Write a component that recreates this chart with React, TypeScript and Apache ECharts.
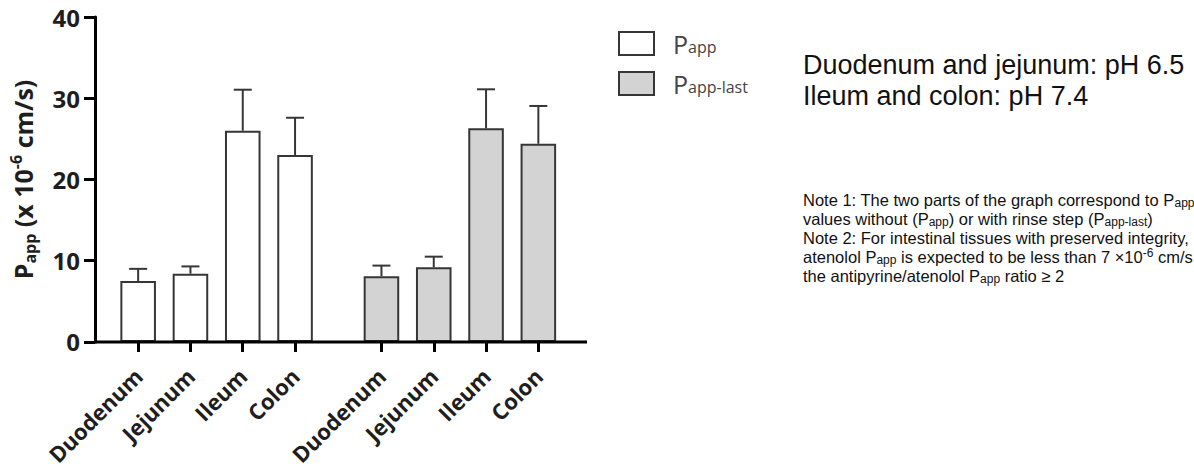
import React, { useEffect, useRef } from 'react';
import * as echarts from 'echarts';

const categories = ['Duodenum', 'Jejunum', 'Ileum', 'Colon'];
const pappMean = [7.5, 8.4, 26.0, 23.0];
const pappSD = [1.5, 0.9, 5.05, 4.6];
const pappLastMean = [8.1, 9.2, 26.3, 24.4];
const pappLastSD = [1.3, 1.3, 4.8, 4.65];
const yMin = 0;
const yMax = 40;
const yInterval = 10;
const seriesNames = ['Papp', 'Papp-last'];
const legendSubs = ['app', 'app-last'];
const titleLines = ['Duodenum and jejunum: pH 6.5', 'Ileum and colon: pH 7.4'];
const noteLines = [
  '{t|Note 1: The two parts of the graph correspond to P}{s|app}',
  '{t|values without (P}{s|app}{t|) or with rinse step (P}{s|app-last}{t|)}',
  '{t|Note 2: For intestinal tissues with preserved integrity,}',
  '{t|atenolol P}{s|app}{t| is expected to be less than 7 \u00d710}{u|-6}{t| cm/s and}',
  '{t|the antipyrine/atenolol P}{s|app}{t| ratio \u2265 2}',
];

const INK = '#1e1e1e';
const BAR_EDGE = '#363636';

export default function App() {
  const ref = useRef<HTMLDivElement>(null);
  useEffect(() => {
    document.body.style.margin = '0';
    if (!ref.current) return;
    const chart = echarts.init(ref.current, null, { renderer: 'svg' });

    const errRender = (params: any, api: any) => {
      const x = api.value(0);
      const m = api.value(1);
      const sd = api.value(2);
      const base = api.coord([x, m]);
      const top = api.coord([x, m + sd]);
      const half = 9;
      const style = { stroke: BAR_EDGE, lineWidth: 2 };
      return {
        type: 'group',
        children: [
          { type: 'line', shape: { x1: base[0], y1: base[1], x2: top[0], y2: top[1] }, style },
          { type: 'line', shape: { x1: top[0] - half, y1: top[1], x2: top[0] + half, y2: top[1] }, style },
        ],
      };
    };

    const xAxisCommon = {
      type: 'category',
      data: categories,
      axisLine: { show: false },
      axisTick: { show: true, alignWithLabel: true, length: 10, lineStyle: { color: '#000', width: 3 } },
      axisLabel: {
        rotate: 45,
        margin: 30,
        color: INK,
        fontFamily: 'Open Sans',
        fontWeight: 'bold',
        fontSize: 22,
        interval: 0,
        padding: [0, 0, 0, 0],
      },
    };

    const option: any = {
      animation: false,
      grid: [
        { left: 112, top: 17, width: 209.2, height: 325 },
        { left: 355.3, top: 17, width: 209.2, height: 325 },
      ],
      xAxis: [
        { ...xAxisCommon, gridIndex: 0 },
        { ...xAxisCommon, gridIndex: 1 },
      ],
      yAxis: [
        {
          type: 'value',
          gridIndex: 0,
          min: yMin,
          max: yMax,
          interval: yInterval,
          offset: 17,
          splitLine: { show: false },
          axisLine: { show: true, lineStyle: { color: '#000', width: 3 } },
          axisTick: { show: true, length: 11, lineStyle: { color: '#000', width: 3 } },
          axisLabel: { margin: 15, color: INK, fontFamily: 'Open Sans', fontWeight: 'bold', fontSize: 24 },
          name: '{b|P}{s|app}{b| (x 10}{u|-6}{b| cm/s)}',
          nameLocation: 'middle',
          nameRotate: 90,
          nameGap: 57,
          nameTextStyle: {
            color: INK,
            fontFamily: 'Open Sans',
            fontWeight: 'bold',
            rich: {
              b: { fontSize: 25, fontWeight: 'bold', fontFamily: 'Open Sans', color: INK, lineHeight: 30 },
              s: { fontSize: 16, fontWeight: 'bold', fontFamily: 'Open Sans', color: INK, lineHeight: 4, verticalAlign: 'bottom' },
              u: { fontSize: 16, fontWeight: 'bold', fontFamily: 'Open Sans', color: INK, lineHeight: 8, verticalAlign: 'top' },
            },
          },
        },
        {
          type: 'value',
          gridIndex: 1,
          min: yMin,
          max: yMax,
          interval: yInterval,
          show: false,
          splitLine: { show: false },
        },
      ],
      legend: {
        orient: 'vertical',
        left: 618,
        top: 31,
        padding: 0,
        itemWidth: 35,
        itemHeight: 23,
        itemGap: 15,
        icon: 'rect',
        data: seriesNames,
        formatter: (name: string) => '{p|P}{s|' + legendSubs[seriesNames.indexOf(name)] + '}',
        textStyle: {
          color: '#444',
          rich: {
            p: { fontSize: 25, fontFamily: 'Open Sans', color: '#444', lineHeight: 23, padding: [0, 0, 0, 14] },
            s: { fontSize: 16, fontFamily: 'Open Sans', color: '#444', lineHeight: 2, verticalAlign: 'bottom' },
          },
        },
      },
      series: [
        {
          name: seriesNames[0],
          type: 'bar',
          xAxisIndex: 0,
          yAxisIndex: 0,
          data: pappMean,
          barWidth: '68%',
          itemStyle: { color: '#ffffff', borderColor: BAR_EDGE, borderWidth: 2 },
        },
        {
          name: seriesNames[1],
          type: 'bar',
          xAxisIndex: 1,
          yAxisIndex: 1,
          data: pappLastMean,
          barWidth: '68%',
          itemStyle: { color: '#d3d3d3', borderColor: BAR_EDGE, borderWidth: 2 },
        },
        {
          type: 'custom',
          xAxisIndex: 0,
          yAxisIndex: 0,
          z: 5,
          renderItem: errRender,
          encode: { x: 0, y: 1 },
          data: categories.map((c, i) => [i, pappMean[i], pappSD[i]]),
        },
        {
          type: 'custom',
          xAxisIndex: 1,
          yAxisIndex: 1,
          z: 5,
          renderItem: errRender,
          encode: { x: 0, y: 1 },
          data: categories.map((c, i) => [i, pappLastMean[i], pappLastSD[i]]),
        },
      ],
      graphic: [
        {
          type: 'line',
          z: 10,
          shape: { x1: 94, y1: 342, x2: 587, y2: 342 },
          style: { stroke: '#000', lineWidth: 3 },
        },
        {
          type: 'text',
          x: 803,
          y: 80.5,
          style: {
            text: titleLines.join('\n'),
            font: '27px "Liberation Sans", Arial, sans-serif',
            fill: '#111',
            lineHeight: 31,
            verticalAlign: 'middle',
          },
        },
        {
          type: 'text',
          x: 803,
          y: 190,
          style: {
            text: noteLines.join('\n'),
            fill: '#111',
            verticalAlign: 'top',
            rich: {
              t: { fontSize: 16.5, fontFamily: 'Liberation Sans', fill: '#111', lineHeight: 19 },
              s: { fontSize: 12, fontFamily: 'Liberation Sans', fill: '#111', lineHeight: 3, verticalAlign: 'bottom' },
              u: { fontSize: 12, fontFamily: 'Liberation Sans', fill: '#111', lineHeight: 8, verticalAlign: 'top' },
            },
          },
        },
      ],
    };

    chart.setOption(option);
    return () => chart.dispose();
  }, []);

  return <div ref={ref} style={{ width: 1194, height: 468 }} />;
}
